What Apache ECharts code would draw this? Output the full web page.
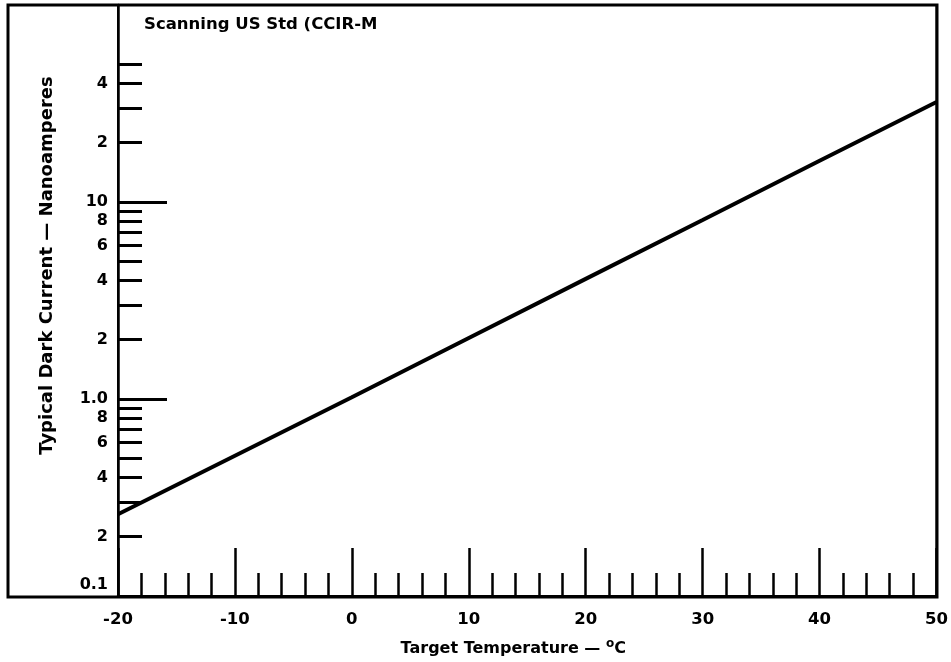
<!DOCTYPE html>
<html>
<head>
<meta charset="utf-8">
<script src="https://cdn.jsdelivr.net/npm/echarts@6/dist/echarts.min.js"></script>
<style>html,body{margin:0;padding:0;background:#fff}#c{width:951px;height:662px}</style>
</head>
<body>
<div id="c"></div>
<script>
// Data
const temperatures = [-20, 0, 10, 20, 30, 40, 50];
const darkCurrent = [0.26, 1.02, 2.04, 4.07, 8.1, 16.2, 32.2];
const yLabelValues = [0.1, 0.2, 0.4, 0.6, 0.8, 1, 2, 4, 6, 8, 10, 20, 40];
const yLabelTexts = ['0.1', '2', '4', '6', '8', '1.0', '2', '4', '6', '8', '10', '2', '4'];
const yShortTicks = [0.2, 0.3, 0.4, 0.5, 0.6, 0.7, 0.8, 0.9, 2, 3, 4, 5, 6, 7, 8, 9, 20, 30, 40, 50];
const yLongTicks = [1, 10];
const titleText = 'Scanning US Std (CCIR-M';
const xName = 'Target Temperature — ';
const yName = 'Typical Dark Current — Nanoamperes';

const FONT = 'DejaVu Sans';
const chart = echarts.init(document.getElementById('c'), null, {renderer: 'canvas'});
const lineData = temperatures.map((t, i) => [t, darkCurrent[i]]);

chart.setOption({
  animation: false,
  backgroundColor: '#fff',
  title: {
    text: titleText, left: 139, top: 11,
    textStyle: {fontFamily: FONT, fontWeight: 'bold', fontSize: 16.5, color: '#000'}
  },
  graphic: [{
    type: 'rect', silent: true,
    shape: {x: 8, y: 5, width: 929, height: 592},
    style: {fill: 'none', stroke: '#000', lineWidth: 3}
  }],
  grid: {left: 118, right: 14, top: 5, bottom: 66, show: true, borderColor: '#000', borderWidth: 2, backgroundColor: 'transparent'},
  xAxis: {
    type: 'value', min: -20, max: 50, interval: 10,
    name: xName + '{sup|o}C', nameLocation: 'middle', nameGap: 42,
    nameTextStyle: {fontFamily: FONT, fontWeight: 'bold', fontSize: 16, color: '#000', padding: [0, 28, 0, 0],
      rich: {sup: {fontFamily: FONT, fontWeight: 'bold', fontSize: 12, color: '#000', verticalAlign: 'top', padding: [0, 0, 9, 0]}}},
    axisLine: {onZero: false, lineStyle: {color: '#000', width: 3}},
    axisTick: {inside: true, length: 48, lineStyle: {color: '#000', width: 2.5}},
    minorTick: {show: true, splitNumber: 5, length: 23, lineStyle: {color: '#000', width: 2.5}},
    splitLine: {show: false},
    axisLabel: {fontFamily: FONT, fontWeight: 'bold', fontSize: 16.5, color: '#000', margin: 15,
      formatter: v => String(v)}
  },
  yAxis: [{
    type: 'log', logBase: 10, min: 0.1, max: 100, position: 'left',
    name: yName, nameLocation: 'middle', nameGap: 62,
    nameTextStyle: {fontFamily: FONT, fontWeight: 'bold', fontSize: 18, color: '#000', padding: [0, 0, 0, 70]},
    axisLine: {show: true, onZero: false, lineStyle: {color: '#000', width: 2.5}},
    axisTick: {show: true, inside: true, length: 24, customValues: yShortTicks, lineStyle: {color: '#000', width: 3}},
    splitLine: {show: false},
    minorTick: {show: false},
    axisLabel: {
      customValues: yLabelValues, margin: 10,
      fontFamily: FONT, fontWeight: 'bold', fontSize: 16, color: '#000',
      formatter: v => {
        const i = yLabelValues.findIndex(x => Math.abs(x - v) < 1e-9 * Math.max(1, x));
        const t = i >= 0 ? yLabelTexts[i] : '';
        return i === 0 ? '{lo|' + t + '}' : t;
      },
      rich: {lo: {fontFamily: FONT, fontWeight: 'bold', fontSize: 16, color: '#000', padding: [0, 0, 22, 0]}}
    }
  }, {
    type: 'log', logBase: 10, min: 0.1, max: 100, position: 'left',
    axisLine: {show: false, onZero: false},
    axisTick: {show: true, inside: true, length: 49, customValues: yLongTicks, lineStyle: {color: '#000', width: 3}},
    axisLabel: {show: false},
    splitLine: {show: false}
  }],
  series: [{
    type: 'line', data: lineData, xAxisIndex: 0, yAxisIndex: 0,
    showSymbol: false, symbol: 'none',
    lineStyle: {color: '#000', width: 4}
  }]
});
</script>
</body>
</html>
